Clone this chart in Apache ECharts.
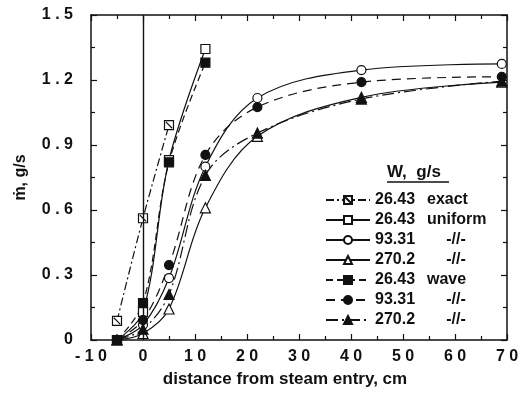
<!DOCTYPE html>
<html>
<head>
<meta charset="utf-8">
<script src="https://cdn.jsdelivr.net/npm/echarts@6/dist/echarts.min.js"></script>
<style>
  html, body { margin: 0; padding: 0; background: #fff; }
  #chart { width: 523px; height: 399px; }
</style>
</head>
<body>
<div id="chart"></div>
<script>
// distances, cm
const xExact = [-5, 0, 5]
const xShort = [-5, 0, 5, 12]
const xLong = [-5, 0, 5, 12, 22, 42, 69]

// mass flow, g/s
const exact26 = [0.088, 0.562, 0.992]
const uniform26 = [0, 0.13, 0.83, 1.343]
const uniform93 = [0, 0.07, 0.286, 0.80, 1.117, 1.246, 1.274]
const uniform270 = [0, 0.03, 0.143, 0.61, 0.94, 1.12, 1.19]
const wave26 = [0, 0.17, 0.82, 1.28]
const wave93 = [0, 0.092, 0.346, 0.854, 1.075, 1.19, 1.215]
const wave270 = [0, 0.05, 0.21, 0.76, 0.955, 1.112, 1.195]

const font = 'Liberation Sans'
const ink = '#111'
const slashSquare = 'path://M0,0L10,0L10,10L0,10ZM1.5,1.5L8.5,8.5'

const zip = (xs, ys) => xs.map((x, i) => [x, ys[i]])
const spaced = v => String(v).split('').join(' ')

const labels = {
  '26.43 exact': ['26.43', 'exact', 'b'],
  '26.43 uniform': ['26.43', 'uniform', 'b'],
  '93.31 uniform': ['93.31', '-//-', 'c'],
  '270.2 uniform': ['270.2', '-//-', 'c'],
  '26.43 wave': ['26.43', 'wave', 'b'],
  '93.31 wave': ['93.31', '-//-', 'c'],
  '270.2 wave': ['270.2', '-//-', 'c']
}

function line(name, data, symbol, filled, dash, extra) {
  return Object.assign({
    name: name,
    type: 'line',
    data: data,
    smooth: 0.35,
    symbol: symbol,
    symbolSize: symbol === 'triangle' ? 10 : 9,
    lineStyle: { color: ink, width: 1.2, type: dash },
    itemStyle: { color: filled ? ink : '#fff', borderColor: ink, borderWidth: 1.2 },
    emphasis: { disabled: true },
    animation: false
  }, extra || {})
}

const tickStyle = { lineStyle: { color: ink, width: 1.2 } }
const frameLine = { show: true, onZero: false, lineStyle: { color: ink, width: 1.5 } }
const chart = echarts.init(document.getElementById('chart'))
chart.setOption({
  backgroundColor: '#fff',
  grid: { left: 91, right: 16, top: 15, bottom: 59 },
  xAxis: [{
    type: 'value', min: -10, max: 70, interval: 10,
    name: 'distance from steam entry, cm', nameLocation: 'middle', nameGap: 31,
    nameTextStyle: { fontFamily: font, fontWeight: 'bold', fontSize: 17, color: ink, padding: [0, 28, 0, 0] },
    axisLine: frameLine,
    axisTick: Object.assign({ inside: true, length: 6 }, tickStyle),
    minorTick: Object.assign({ show: true, splitNumber: 2, length: 4 }, tickStyle),
    axisLabel: { margin: 9, fontFamily: font, fontWeight: 'bold', fontSize: 16, color: ink, formatter: spaced },
    splitLine: { show: false }
  }, {
    type: 'value', position: 'top', min: -10, max: 70, interval: 10,
    axisLine: frameLine,
    axisTick: Object.assign({ inside: true, length: 6 }, tickStyle),
    minorTick: Object.assign({ show: true, splitNumber: 2, length: 4 }, tickStyle),
    axisLabel: { show: false }, splitLine: { show: false }
  }],
  yAxis: [{
    type: 'value', min: 0, max: 1.5, interval: 0.3,
    name: 'ṁ, g/s', nameLocation: 'middle', nameGap: 62, nameRotate: 90,
    nameTextStyle: { fontFamily: font, fontWeight: 'bold', fontSize: 16, color: ink },
    axisLine: frameLine,
    axisTick: Object.assign({ show: true, inside: true, length: 6 }, tickStyle),
    minorTick: Object.assign({ show: true, splitNumber: 2, length: 4 }, tickStyle),
    axisLabel: { margin: 18, fontFamily: font, fontWeight: 'bold', fontSize: 16, color: ink,
      formatter: v => spaced(Math.round(v * 10) / 10) },
    splitLine: { show: false }
  }, {
    type: 'value', position: 'right', min: 0, max: 1.5, interval: 0.3,
    axisLine: frameLine,
    axisTick: Object.assign({ show: true, inside: true, length: 6 }, tickStyle),
    minorTick: Object.assign({ show: true, splitNumber: 2, length: 4 }, tickStyle),
    axisLabel: { show: false }, splitLine: { show: false }
  }],
  legend: {
    orient: 'vertical', left: 320, top: 187,
    itemWidth: 44, itemHeight: 10, itemGap: 4,
    selectedMode: false,
    textStyle: {
      color: ink, fontFamily: font, fontWeight: 'bold', fontSize: 16,
      rich: {
        a: { width: 52, fontFamily: font, fontWeight: 'bold', fontSize: 16, lineHeight: 14, color: ink },
        b: { width: 64, fontFamily: font, fontWeight: 'bold', fontSize: 16, lineHeight: 14, color: ink },
        c: { width: 58, align: 'center', fontFamily: font, fontWeight: 'bold', fontSize: 16, lineHeight: 14, color: ink }
      }
    },
    formatter: name => {
      const l = labels[name]
      return '{a|' + l[0] + '}{' + l[2] + '|' + l[1] + '}'
    },
    data: ['26.43 exact', '26.43 uniform', '93.31 uniform', '270.2 uniform', '26.43 wave', '93.31 wave', '270.2 wave']
  },
  graphic: [
    { type: 'text', left: 387, top: 164, style: { text: 'W,  g/s', fontFamily: font, fontWeight: 'bold', fontSize: 17, fill: ink } },
    { type: 'line', shape: { x1: 387, y1: 182, x2: 449, y2: 182 }, style: { stroke: ink, lineWidth: 1.4 } }
  ],
  series: [
    line('26.43 exact', zip(xExact, exact26), slashSquare, false, [8, 3, 2, 3], {
      markLine: {
        silent: true, symbol: 'none', label: { show: false },
        lineStyle: { color: ink, width: 1.4, type: 'solid' },
        data: [{ xAxis: 0 }]
      }
    }),
    line('26.43 uniform', zip(xShort, uniform26), 'rect', false, 'solid'),
    line('93.31 uniform', zip(xLong, uniform93), 'circle', false, 'solid'),
    line('270.2 uniform', zip(xLong, uniform270), 'triangle', false, 'solid'),
    line('26.43 wave', zip(xShort, wave26), 'rect', true, [7, 4]),
    line('93.31 wave', zip(xLong, wave93), 'circle', true, [9, 6]),
    line('270.2 wave', zip(xLong, wave270), 'triangle', true, [12, 4, 2, 4])
  ]
})
</script>
</body>
</html>
